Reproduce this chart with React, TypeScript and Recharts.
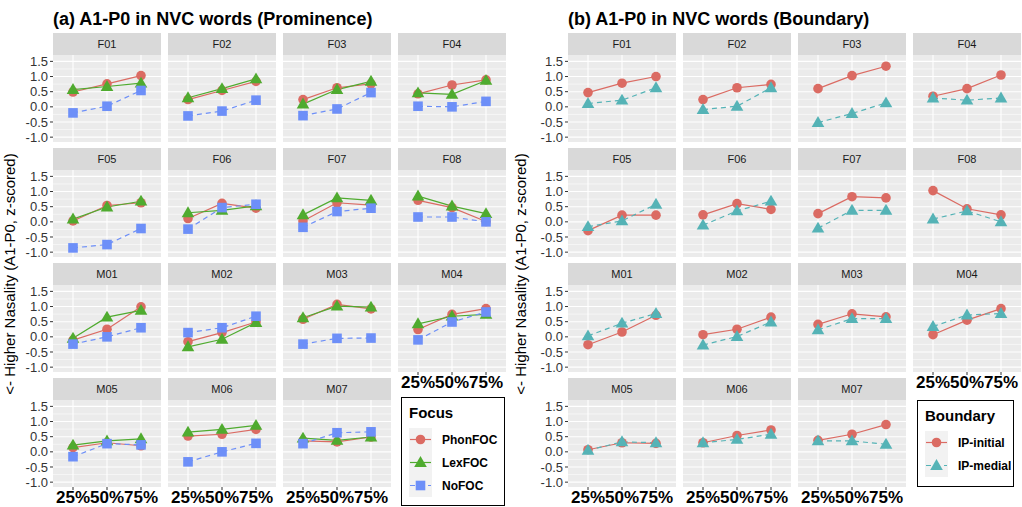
import React from 'react';
import { LineChart, Line, XAxis, YAxis, CartesianGrid } from 'recharts';

const timePoints = ['25%', '50%', '75%'];
const speakers = ['F01', 'F02', 'F03', 'F04', 'F05', 'F06', 'F07', 'F08', 'M01', 'M02', 'M03', 'M04', 'M05', 'M06', 'M07'];
const yTicks = [-1, -0.5, 0, 0.5, 1, 1.5];
const yMinor = [-0.75, -0.25, 0.25, 0.75, 1.25];

// (a) Prominence — one row per speaker (order as `speakers`), values at 25/50/75%
const phonFOC = [
  [0.49, 0.76, 1.03], [0.24, 0.54, 0.84], [0.24, 0.63, 0.76], [0.43, 0.72, 0.89],
  [0.03, 0.54, 0.63], [0.11, 0.61, 0.45], [0.03, 0.63, 0.55], [0.71, 0.47, 0.01],
  [-0.11, 0.25, 0.99], [-0.16, 0.14, 0.49], [0.58, 1.07, 0.92], [0.24, 0.74, 0.93],
  [0.14, 0.3, 0.2], [0.52, 0.58, 0.74], [0.36, 0.33, 0.49],
];
const lexFOC = [
  [0.57, 0.67, 0.78], [0.3, 0.6, 0.92], [0.09, 0.57, 0.84], [0.46, 0.41, 0.87],
  [0.09, 0.49, 0.68], [0.3, 0.38, 0.53], [0.23, 0.79, 0.71], [0.85, 0.52, 0.27],
  [-0.05, 0.65, 0.87], [-0.33, -0.08, 0.47], [0.63, 1.01, 0.98], [0.43, 0.68, 0.74],
  [0.22, 0.36, 0.43], [0.65, 0.74, 0.87], [0.45, 0.38, 0.49],
];
const noFOC = [
  [-0.2, 0.02, 0.54], [-0.3, -0.14, 0.22], [-0.29, -0.07, 0.47], [0.02, 0.0, 0.18],
  [-0.86, -0.75, -0.22], [-0.24, 0.47, 0.58], [-0.18, 0.34, 0.45], [0.16, 0.16, 0.0],
  [-0.24, 0.0, 0.3], [0.14, 0.3, 0.68], [-0.24, -0.05, -0.04], [-0.1, 0.49, 0.82],
  [-0.16, 0.27, 0.23], [-0.33, 0.0, 0.28], [0.27, 0.63, 0.66],
];

// (b) Boundary
const ipInitial = [
  [0.47, 0.78, 1.0], [0.24, 0.63, 0.74], [0.6, 1.03, 1.34], [0.35, 0.6, 1.05],
  [-0.29, 0.22, 0.22], [0.23, 0.6, 0.41], [0.27, 0.83, 0.79], [1.03, 0.43, 0.23],
  [-0.26, 0.16, 0.71], [0.07, 0.25, 0.65], [0.41, 0.76, 0.66], [0.07, 0.55, 0.93],
  [0.07, 0.3, 0.28], [0.3, 0.54, 0.72], [0.38, 0.58, 0.9],
];
const ipMedial = [
  [0.11, 0.22, 0.63], [-0.09, 0.02, 0.63], [-0.52, -0.22, 0.13], [0.29, 0.22, 0.29],
  [-0.16, 0.03, 0.58], [-0.11, 0.36, 0.68], [-0.21, 0.38, 0.38], [0.09, 0.36, 0.0],
  [0.03, 0.45, 0.77], [-0.27, 0.01, 0.49], [0.23, 0.6, 0.6], [0.34, 0.72, 0.77],
  [0.05, 0.33, 0.3], [0.3, 0.41, 0.58], [0.36, 0.36, 0.25],
];

const RED = '#DB6B63';
const GREEN = '#4FAB2F';
const BLUE = '#6D8FF8';
const TEAL = '#55B3B6';
const FONT = '"Liberation Sans", Arial, sans-serif';

type Shape = 'circle' | 'triangle' | 'square';
type Series = { name: string; values: number[][]; color: string; shape: Shape; dashed: boolean };

const focusSeries: Series[] = [
  { name: 'PhonFOC', values: phonFOC, color: RED, shape: 'circle', dashed: false },
  { name: 'LexFOC', values: lexFOC, color: GREEN, shape: 'triangle', dashed: false },
  { name: 'NoFOC', values: noFOC, color: BLUE, shape: 'square', dashed: true },
];
const boundarySeries: Series[] = [
  { name: 'IP-initial', values: ipInitial, color: RED, shape: 'circle', dashed: false },
  { name: 'IP-medial', values: ipMedial, color: TEAL, shape: 'triangle', dashed: true },
];

function Marker({ cx, cy, shape, color }: { cx: number; cy: number; shape: Shape; color: string }) {
  if (shape === 'circle') return <circle cx={cx} cy={cy} r={4.8} fill={color} />;
  if (shape === 'triangle')
    return <polygon points={`${cx},${cy - 6.5} ${cx - 6.3},${cy + 4.4} ${cx + 6.3},${cy + 4.4}`} fill={color} />;
  return <rect x={cx - 4.8} y={cy - 4.8} width={9.6} height={9.6} fill={color} />;
}

const makeDot = (shape: Shape, color: string) => (props: any) => {
  const { cx, cy, index } = props;
  if (cx == null || cy == null) return <g key={`e${index}`} />;
  return <Marker key={`d${index}`} cx={cx} cy={cy} shape={shape} color={color} />;
};

const PW = 108;
const PH = 87;
const STRIP = 22;
const YW = 36;
const XH = 20;
const PAD = 8;

function Facet({ left, top, idx, series, showY, showX }: { left: number; top: number; idx: number; series: Series[]; showY: boolean; showX: boolean }) {
  const data = timePoints.map((t, i) => {
    const row: any = { t };
    series.forEach((s) => { row[s.name] = s.values[idx][i]; });
    return row;
  });
  const yw = showY ? YW : 0;
  const xh = showX ? XH : 0;
  const bottomPad = showX ? 0 : PAD;
  return (
    <>
      <div style={{ position: 'absolute', left, top, width: PW, height: STRIP, background: '#D9D9D9', color: '#1A1A1A', fontSize: 11, lineHeight: `${STRIP}px`, textAlign: 'center', fontFamily: FONT }}>
        {speakers[idx]}
      </div>
      <div style={{ position: 'absolute', left: left - yw, top: top + STRIP - PAD }}>
        <LineChart width={PW + yw} height={PH + xh + PAD + bottomPad} data={data} margin={{ top: PAD, right: 0, bottom: bottomPad, left: 0 }}>
          <CartesianGrid fill="#EBEBEB" stroke="#FFFFFF" strokeWidth={0.55} horizontalValues={yMinor} vertical={false} />
          <CartesianGrid stroke="#FFFFFF" strokeWidth={1.1} horizontalValues={yTicks} verticalValues={timePoints} />
          <XAxis dataKey="t" hide={!showX} height={XH} padding={{ left: 20, right: 20 }} interval={0} tickSize={3} tickMargin={1} axisLine={false} tickLine={{ stroke: '#333333' }} tick={{ fill: '#000000', fontSize: 17, fontWeight: 700, fontFamily: FONT }} />
          <YAxis hide={!showY} width={YW} type="number" domain={[-1.16, 1.71]} ticks={yTicks} interval={0} allowDataOverflow tickSize={3} tickMargin={2} axisLine={false} tickLine={{ stroke: '#333333' }} tickFormatter={(v: number) => v.toFixed(1)} tick={{ fill: '#333333', fontSize: 13, fontFamily: FONT }} />
          {series.map((s) => (
            <Line key={s.name} dataKey={s.name} stroke={s.color} strokeWidth={1.2} strokeDasharray={s.dashed ? '5 4' : undefined} dot={makeDot(s.shape, s.color)} activeDot={false} isAnimationActive={false} />
          ))}
        </LineChart>
      </div>
    </>
  );
}

function Legend({ left, top, width, height, title, series }: { left: number; top: number; width: number; height: number; title: string; series: Series[] }) {
  return (
    <div style={{ position: 'absolute', left, top, width, height, border: '1.5px solid #000', boxSizing: 'border-box', fontFamily: FONT, background: '#fff' }}>
      <div style={{ position: 'absolute', left: 7, top: 6, fontSize: 15, fontWeight: 700, color: '#000' }}>{title}</div>
      {series.map((s, i) => (
        <div key={s.name} style={{ position: 'absolute', left: 7, top: 30 + i * 23, height: 23, display: 'flex', alignItems: 'center' }}>
          <svg width={23} height={23}>
            <rect x={0} y={0} width={23} height={23} fill="#F2F2F2" />
            <line x1={1} y1={11.5} x2={22} y2={11.5} stroke={s.color} strokeWidth={1.2} strokeDasharray={s.dashed ? '5 4' : undefined} />
            <Marker cx={11.5} cy={11.5} shape={s.shape} color={s.color} />
          </svg>
          <span style={{ marginLeft: 10, fontSize: 12, fontWeight: 700, color: '#000' }}>{s.name}</span>
        </div>
      ))}
    </div>
  );
}

function Panel({ x0, title, yTitleX, series, legendTitle, legendBox }: { x0: number; title: string; yTitleX: number; series: Series[]; legendTitle: string; legendBox: { left: number; top: number; width: number; height: number } }) {
  return (
    <>
      <div style={{ position: 'absolute', left: x0, top: 10, fontSize: 18, fontWeight: 700, lineHeight: '18px', color: '#000', fontFamily: FONT, whiteSpace: 'nowrap' }}>{title}</div>
      <div style={{ position: 'absolute', left: yTitleX, top: 274, width: 0, height: 0 }}>
        <div style={{ position: 'absolute', transform: 'translate(-50%, -50%) rotate(-90deg)', whiteSpace: 'nowrap', fontSize: 15, color: '#000', fontFamily: FONT, lineHeight: '15px' }}>
          {'<- Higher Nasality (A1-P0, z-scored)'}
        </div>
      </div>
      {speakers.map((sp, idx) => {
        const r = Math.floor(idx / 4);
        const c = idx % 4;
        const showX = r === 3 || (r === 2 && c === 3);
        return <Facet key={sp} left={x0 + c * 115} top={33 + r * 115} idx={idx} series={series} showY={c === 0} showX={showX} />;
      })}
      <Legend {...legendBox} title={legendTitle} series={series} />
    </>
  );
}

export default function App() {
  return (
    <div style={{ position: 'absolute', left: 0, top: 0, width: 1022, height: 507, background: '#fff', overflow: 'hidden' }}>
      <Panel x0={53} title="(a) A1-P0 in NVC words (Prominence)" yTitleX={9} series={focusSeries} legendTitle="Focus" legendBox={{ left: 401, top: 397, width: 104, height: 109 }} />
      <Panel x0={568} title="(b) A1-P0 in NVC words (Boundary)" yTitleX={520} series={boundarySeries} legendTitle="Boundary" legendBox={{ left: 917, top: 400, width: 97, height: 87 }} />
    </div>
  );
}
